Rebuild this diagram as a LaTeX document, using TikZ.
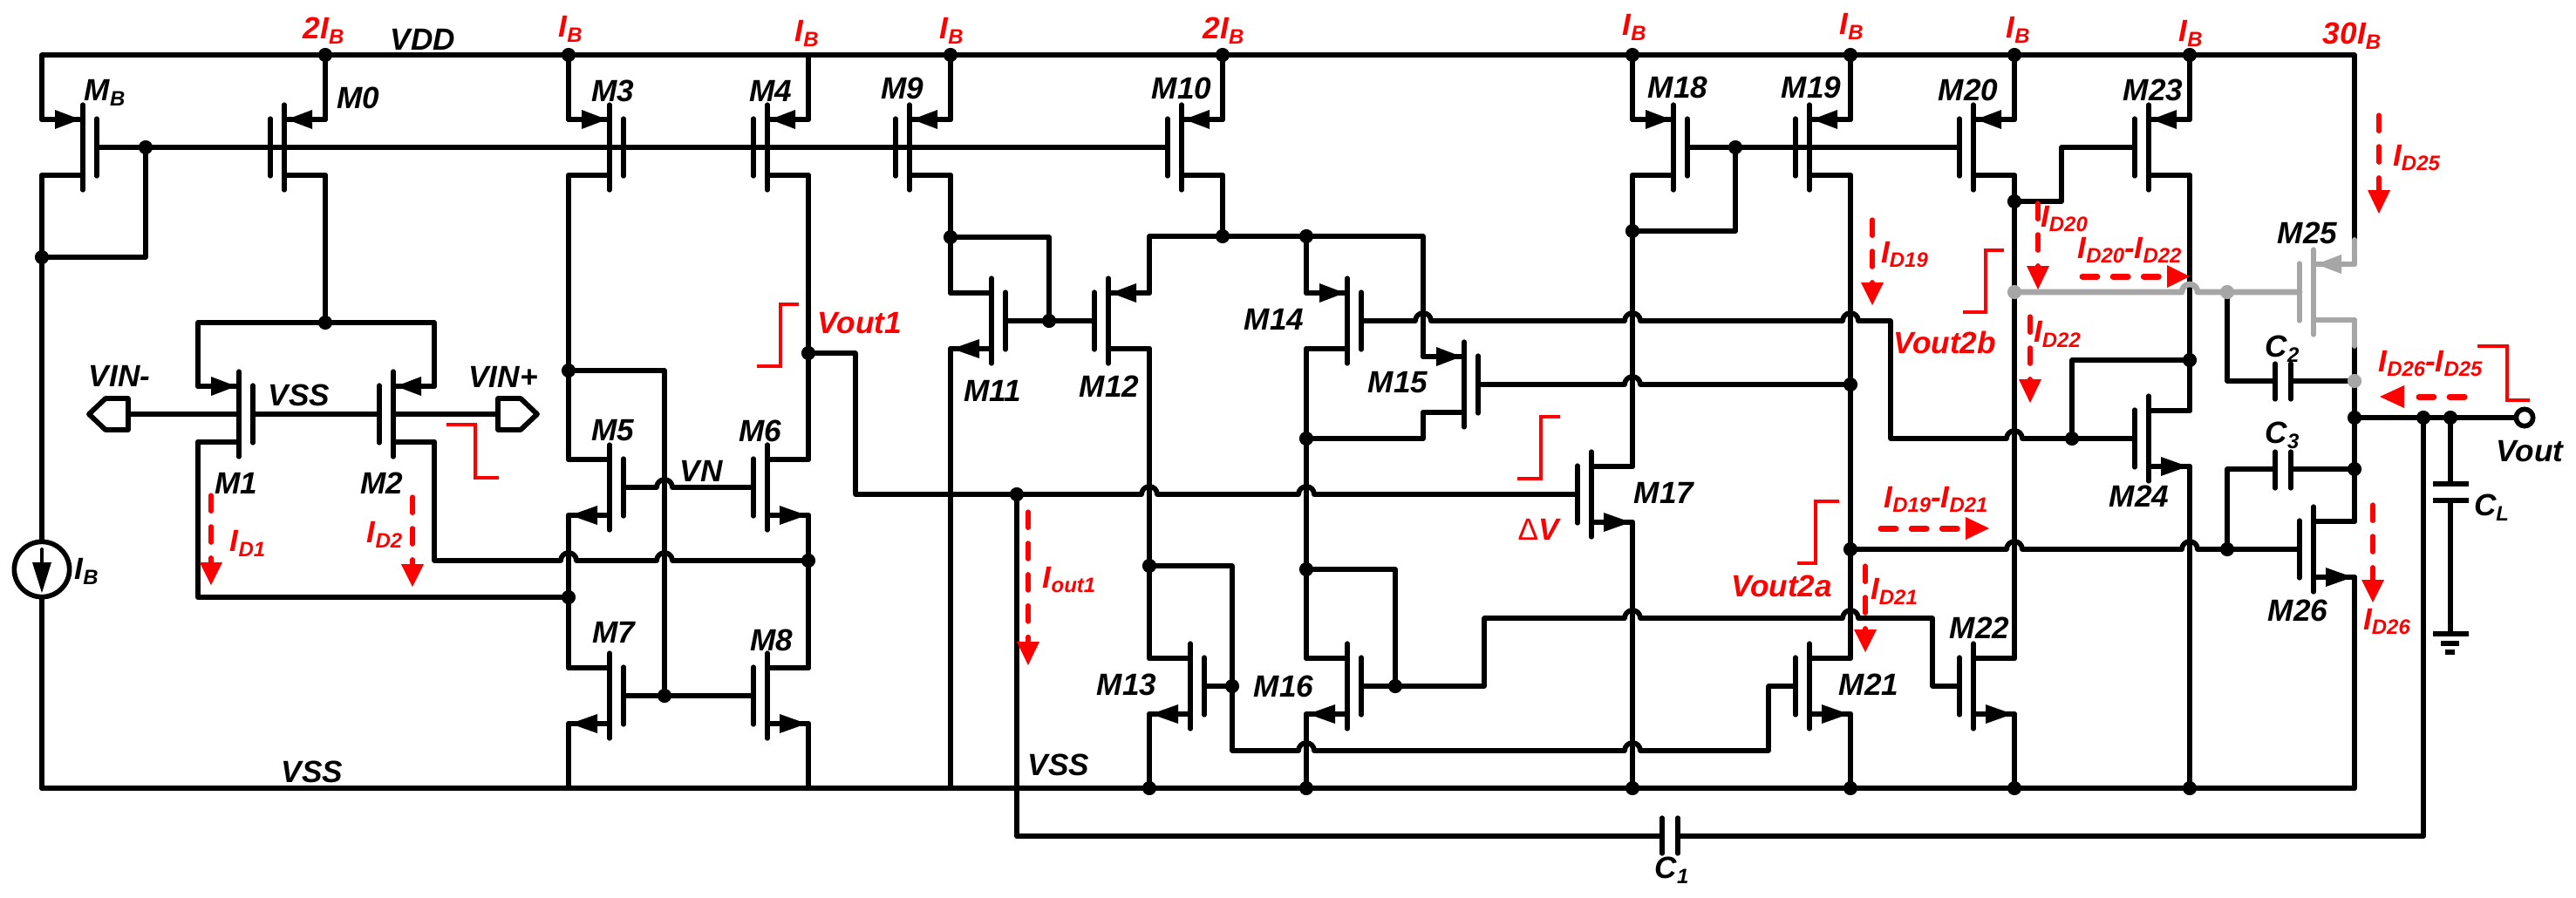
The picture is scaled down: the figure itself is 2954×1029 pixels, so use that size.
\documentclass[tikz,border=0pt]{standalone}
\usepackage{fontspec}
\usepackage{graphicx}
\setmainfont{Liberation Sans}
\usetikzlibrary{calc}
\definecolor{gr}{HTML}{A6A6A6}
\tikzset{
  wire/.style={line width=1.65pt,line cap=round,line join=round},
  bar/.style={line width=1.5pt,line cap=round},
  lbl/.style={inner sep=0pt,font=\fontsize{10}{10}\selectfont\bfseries\itshape},
  rlbl/.style={lbl,text=red},
  brk/.style={red,line width=1.25pt,line cap=butt,line join=miter},
  rdash/.style={red,line width=1.5pt,line cap=round,dash pattern=on 5.2pt off 5pt},
  rdashh/.style={red,line width=2pt,line cap=round,dash pattern=on 4.8pt off 5.2pt},
}
\newcommand\subs[1]{\raisebox{-1.7pt}{\fontsize{6.8}{7}\selectfont #1}}
\newcommand\mosbase[5]{%
  \pgfmathsetmacro\mxw{#3-(#5)*47}%
  \pgfmathsetmacro\mxp{#3+(#5)*16}%
  \coordinate (#2-c) at (#3,#4);
  \coordinate (#2-g) at (\mxp,#4);
  \coordinate (#2-t) at (\mxw,#4-32);
  \coordinate (#2-b) at (\mxw,#4+32);
  \draw[bar,#1] (#3,#4-49) -- (#3,#4+49);
  \draw[bar,#1] (\mxp,#4-33) -- (\mxp,#4+33);
  \draw[wire,#1] (#3,#4-32) -- (#2-t);
  \draw[wire,#1] (#3,#4+32) -- (#2-b);
}
\newcommand\pmos[5][black]{\mosbase{#1}{#2}{#3}{#4}{#5}%
  \fill[#1] (#3-3*#5,#4-32) -- (#3-32*#5,#4-43) -- (#3-32*#5,#4-21) -- cycle;}
\newcommand\nmos[5][black]{\mosbase{#1}{#2}{#3}{#4}{#5}%
  \fill[#1] (#3-45*#5,#4+32) -- (#3-14*#5,#4+21) -- (#3-14*#5,#4+43) -- cycle;}
\newcommand\hp[1]{-- ($(#1)+(-9,0)$) arc[start angle=180,end angle=0,radius=2.56pt] }
\newcommand\lab[4]{\node[lbl] (#1) at (#2,#3) {#4};}
\newcommand\rlab[4]{\node[rlbl] (#1) at (#2,#3) {#4};}
\newcommand\redv[5]{%
  \coordinate (#1-s) at (#2,#3); \coordinate (#1-b) at (#2,#4); \coordinate (#1-t) at (#2,#5);
  \draw[rdash] (#1-s) -- (#1-b);
  \fill[red] (#2-13,#4) -- (#2+13,#4) -- (#1-t) -- cycle;}
\newcommand\redh[5]{%
  \coordinate (#1-s) at (#2,#5); \coordinate (#1-b) at (#3,#5); \coordinate (#1-t) at (#4,#5);
  \draw[rdashh] (#1-s) -- (#1-b);
  \fill[red] (#3,#5-13) -- (#3,#5+13) -- (#1-t) -- cycle;}
\begin{document}
\begin{tikzpicture}[x=0.01cm,y=-0.01cm]
\useasboundingbox (0,0) rectangle (2954,1029);
\fill[white] (0,0) rectangle (2954,1029);
% rails
\coordinate (vddL) at (48,63); \coordinate (vddR) at (2700,63);
\coordinate (vssL) at (48,904); \coordinate (vssR) at (2700,904);
\coordinate (g25a) at (2700,275); \coordinate (g25b) at (2700,397);
% transistors
\pmos{MB}{95}{169}{1}
\pmos{M0}{326}{169}{-1}
\pmos{M3}{699}{169}{1}
\pmos{M4}{880}{169}{-1}
\pmos{M9}{1043}{169}{-1}
\pmos{M10}{1355}{169}{-1}
\pmos{M18}{1919}{169}{1}
\pmos{M19}{2075}{169}{-1}
\pmos{M20}{2263}{169}{-1}
\pmos{M23}{2464}{169}{-1}
\pmos{M1}{274}{475}{1}
\pmos{M2}{451}{475}{-1}
\nmos{M5}{699}{559}{1}
\nmos{M6}{880}{559}{-1}
\nmos{M7}{699}{798}{1}
\nmos{M8}{880}{798}{-1}
\nmos{M11}{1137}{368}{1}
\pmos{M12}{1271}{368}{-1}
\pmos{M14}{1545}{368}{1}
\pmos{M15}{1679}{441}{1}
\nmos{M17}{1825}{567}{-1}
\nmos{M13}{1365}{787}{1}
\nmos{M16}{1545}{787}{1}
\nmos{M21}{2075}{787}{-1}
\nmos{M22}{2263}{787}{-1}
\nmos{M24}{2464}{503}{-1}
\pmos[gr]{M25}{2653}{335}{-1}
\nmos{M26}{2653}{630}{-1}
% junctions
\foreach \n/\x/\y in {v0/373/63,v3/652/63,v9/1090/63,v10/1402/63,v18/1872/63,v19/2122/63,v20/2310/63,v23/2511/63,
  jb/167/169,j48/48/295,jt/373/370,j425/652/425,j685/652/685,j405/927/405,j643/927/643,
  j762/762/798,j272/1090/272,j368/1203/368,j1402/1402/271,j1498/1498/271,j503/1498/503,
  j649/1318/649,j653/1498/653,j787/1413/787,j1600/1600/787,j1166/1166/567,j265/1872/265,j1990/1990/169,
  j367/2122/441,j630/2122/630,j231/2310/231,j413/2511/413,j2376/2376/503,j2554/2554/630,
  j479/2700/479,j538/2700/538,j2779/2779/479,j2810/2810/479,
  s13/1318/904,s16/1498/904,s17/1872/904,s21/2122/904,s22/2310/904,s24/2511/904}
  {\coordinate (\n) at (\x,\y);}
\foreach \n/\x/\y in {jg1/2310/335,jg2/2554/335,jg3/2700/437} {\coordinate (\n) at (\x,\y);}
% hops
\foreach \n/\x/\y in {h1/652/643,h2/762/643,h3/762/559,h4/1318/567,h5/1498/567,h6/1632/368,h7/1872/368,h8/2122/368,
  h9/1872/441,h10/2310/503,gh/2511/335,h11/2310/630,h12/2511/630,h13/1872/709,h14/2122/709,h15/1498/861,h16/1872/861}
  {\coordinate (\n) at (\x,\y);}
% corners
\foreach \n/\x/\y in {c1/981/567,c2/2168/368,c3/2364/169,c4/1413/861,c5/2028/861,c6/1702/709,c7/2216/709,
  cvn/762/425,cC1a/1166/959,cC1b/2779/959,C1a/1906/959,C1b/1924/959,C2a/2609/437,C2b/2627/437,C3a/2609/538,C3b/2627/538,
  pinL/147/475,pinR/571/475,CLa/2810/555,CLb/2810/574,gnd/2810/727}
  {\coordinate (\n) at (\x,\y);}
% VDD, VSS
\draw[wire] (MB-t) |- (vddR) -- (g25a);
\foreach \m in {M0,M3,M4,M9,M10,M18,M19,M20,M23} {\draw[wire] (\m-t) -- (\m-t |- vddL);}
\draw[wire] (vssL) -- (vssR);
% current source
\node[circle,draw,line width=1.6pt,minimum size=18pt,inner sep=0pt] (cs) at (48,653) {};
\draw[wire] (MB-b) -- (cs.north);
\draw[wire] (cs.south) -- (vssL);
\draw[wire,line width=1.1pt] (48,630) -- (48,650);
\fill (37,645) -- (59,645) -- (48,680) -- cycle;
% left part
\draw[wire] (MB-g) -- (M10-g);
\draw[wire] (jb) |- (j48);
\draw[wire] (M0-b) -- (jt);
\draw[wire] (M1-t) -- (M1-t |- jt) -- (M2-t |- jt) -- (M2-t);
\draw[wire] (pinL) -- (M1-c);
\draw[wire] (M1-g) -- (M2-g);
\draw[wire] (M2-c) -- (pinR);
\draw[wire] (147,457) -- (121,457) -- (102,475) -- (121,493) -- (147,493) -- cycle;
\draw[wire] (571,457) -- (597,457) -- (616,475) -- (597,493) -- (571,493) -- cycle;
\draw[wire] (M1-b) |- (j685);
\draw[wire] (M2-b) -- (M2-b |- h1) \hp{h1} \hp{h2} -- (j643);
\draw[wire] (M3-b) -- (M5-t);
\draw[wire] (M5-b) -- (M7-t);
\draw[wire] (M7-b) -- (M7-b |- vssL);
\draw[wire] (j425) -| (j762);
\draw[wire] (M5-g) \hp{h3} -- (M6-g);
\draw[wire] (M7-g) -- (M8-g);
\draw[wire] (M4-b) -- (M6-t);
\draw[wire] (M6-b) -- (M8-t);
\draw[wire] (M8-b) -- (M8-b |- vssL);
% first stage output
\draw[wire] (j405) -| (c1) \hp{h4} \hp{h5} -- (M17-g);
\draw[wire] (j1166) -- (cC1a) -- (C1a);
\draw[wire] (C1b) -- (cC1b) -- (j2779);
\draw[bar] (1906,938) -- (1906,979);
\draw[bar] (1924,938) -- (1924,979);
% second stage
\draw[wire] (M9-b) -- (M11-t);
\draw[wire] (j272) -| (j368);
\draw[wire] (M11-g) -- (M12-g);
\draw[wire] (M11-b) -- (M11-b |- vssL);
\draw[wire] (M10-b) -- (j1402);
\draw[wire] (M12-t) |- (M15-t |- j1402) -- (M15-t);
\draw[wire] (M14-t) -- (j1498);
\draw[wire] (M12-b) -- (M13-t);
\draw[wire] (M14-b) -- (M16-t);
\draw[wire] (M15-b) |- (j503);
\draw[wire] (M14-g) \hp{h6} \hp{h7} \hp{h8} -- (c2) -- (c2 |- M24-g) \hp{h10} -- (M24-g);
\draw[wire] (M15-g) \hp{h9} -- (j367);
\draw[wire] (M18-b) -- (M17-t);
\draw[wire] (M17-b) -- (s17);
\draw[wire] (M18-g) -- (M20-g);
\draw[wire] (j1990) |- (j265);
\draw[wire] (M19-b) -- (M21-t);
\draw[wire] (M21-b) -- (s21);
\draw[wire] (M20-b) -- (M22-t);
\draw[wire] (M22-b) -- (s22);
\draw[wire] (j231) -| (c3) -- (M23-g);
\draw[wire] (M23-b) -- (M24-t);
\draw[wire] (j2376) |- (j413);
\draw[wire] (M24-b) -- (s24);
\draw[wire] (j649) -| (c4) \hp{h15} \hp{h16} -- (c5) |- (M21-g);
\draw[wire] (M13-g) -- (j787);
\draw[wire] (j653) -| (j1600);
\draw[wire] (M16-g) -- (j1600);
\draw[wire] (j1600) -| (c6) \hp{h13} \hp{h14} -- (c7) |- (M22-g);
\draw[wire] (M13-b) -- (s13);
\draw[wire] (M16-b) -- (s16);
% output stage
\draw[wire] (g25b) -- (M26-t);
\draw[wire] (M26-b) -- (vssR);
\draw[wire] (jg2) |- (C2a);
\draw[wire] (C2b) -- (jg3);
\draw[bar] (2609,417) -- (2609,458);
\draw[bar] (2627,417) -- (2627,458);
\draw[wire] (j538) -- (C3b);
\draw[wire] (C3a) -| (j2554);
\draw[bar] (2609,518) -- (2609,560);
\draw[bar] (2627,518) -- (2627,560);
\draw[wire] (j630) \hp{h11} \hp{h12} -- (M26-g);
\node[circle,draw,line width=1.6pt,fill=white,minimum size=5.5pt,inner sep=0pt] (vout) at (2895,479) {};
\draw[wire] (j479) -- (vout);
\draw[wire] (j2810) -- (CLa);
\draw[wire] (CLb) -- (gnd);
\draw[wire,line cap=butt] (2790,555) -- (2831,555);
\draw[wire,line cap=butt] (2790,574) -- (2831,574);
\draw[wire,line cap=butt] (2790,727) -- (2831,727);
\draw[wire,line cap=butt] (2799,738) -- (2820,738);
\draw[wire,line cap=butt] (2804,748) -- (2815,748);
% grey net
\draw[wire,gr] (M25-t) -- (g25a);
\draw[wire,gr] (M25-b) -- (g25b);
\draw[wire,gr,line width=1.9pt] (jg1) \hp{gh} -- (M25-g);
% dots
\foreach \j in {v0,v3,v9,v10,v18,v19,v20,v23,jb,j48,jt,j425,j685,j405,j643,j762,j272,j368,j1402,j1498,j503,
  j649,j653,j787,j1600,j1166,j265,j1990,j367,j630,j231,j413,j2376,j2554,j479,j538,j2779,j2810,s13,s16,s17,s21,s22,s24}
  {\fill (\j) circle[radius=2.3pt];}
\foreach \j in {jg1,jg2,jg3} {\fill[gr] (\j) circle[radius=2.3pt];}
% black labels
\lab{tVDD}{485}{45}{VDD}
\lab{tMB}{120}{106}{M\subs{B}}
\lab{tM0}{411}{112}{M0}
\lab{tM3}{703}{104}{M3}
\lab{tM4}{884}{104}{M4}
\lab{tM9}{1035}{101}{M9}
\lab{tM10}{1355}{101}{M10}
\lab{tM18}{1924}{100}{M18}
\lab{tM19}{2077}{100}{M19}
\lab{tM20}{2257}{103}{M20}
\lab{tM23}{2469}{103}{M23}
\lab{tM1}{271}{554}{M1}
\lab{tM2}{438}{554}{M2}
\lab{tM5}{703}{494}{M5}
\lab{tM6}{872}{494}{M6}
\lab{tM7}{704}{725}{M7}
\lab{tM8}{885}{734}{M8}
\lab{tM11}{1138}{448}{M11}
\lab{tM12}{1272}{443}{M12}
\lab{tM13}{1292}{785}{M13}
\lab{tM14}{1461}{366}{M14}
\lab{tM15}{1603}{439}{M15}
\lab{tM16}{1472}{787}{M16}
\lab{tM17}{1908}{565}{M17}
\lab{tM21}{2143}{785}{M21}
\lab{tM22}{2270}{720}{M22}
\lab{tM24}{2453}{569}{M24}
\lab{tM25}{2646}{267}{M25}
\lab{tM26}{2635}{700}{M26}
\lab{tVINm}{137}{431}{VIN-}
\lab{tVINp}{577}{432}{VIN+}
\lab{tVSSa}{343}{453}{VSS}
\lab{tVSSb}{358}{885}{VSS}
\lab{tVSSc}{1214}{877}{VSS}
\lab{tVN}{804}{540}{VN}
\lab{tIBs}{99}{655}{I\subs{B}}
\lab{tC1}{1917}{998}{C\subs{1}}
\lab{tC2}{2617}{400}{C\subs{2}}
\lab{tC3}{2617}{499}{C\subs{3}}
\lab{tCL}{2857}{582}{C\subs{L}}
\lab{tVout}{2901}{518}{Vout}
% red labels
\rlab{r2IBa}{371}{35}{2I\subs{B}}
\rlab{rIB3}{654}{33}{I\subs{B}}
\rlab{rIB4}{925}{38}{I\subs{B}}
\rlab{rIB9}{1091}{35}{I\subs{B}}
\rlab{r2IBb}{1403}{35}{2I\subs{B}}
\rlab{rIB18}{1874}{31}{I\subs{B}}
\rlab{rIB19}{2123}{30}{I\subs{B}}
\rlab{rIB20}{2314}{34}{I\subs{B}}
\rlab{rIB23}{2512}{38}{I\subs{B}}
\rlab{r30}{2697}{41}{30I\subs{B}}
\rlab{rVout1}{986}{371}{Vout1}
\rlab{rVout2b}{2230}{393}{Vout2b}
\rlab{rVout2a}{2043}{672}{Vout2a}
\rlab{rDV}{1764}{607}{{\mdseries\upshape Δ}V}
\rlab{rID1}{284}{623}{I\subs{D1}}
\rlab{rID2}{441}{613}{I\subs{D2}}
\rlab{rIo}{1226}{665}{I\subs{out1}}
\rlab{rID19}{2184}{292}{I\subs{D19}}
\rlab{rID20}{2367}{251}{I\subs{D20}}
\rlab{rID22}{2359}{383}{I\subs{D22}}
\rlab{rID2022}{2442}{287}{I\subs{D20}-I\subs{D22}}
\rlab{rID25}{2771}{181}{I\subs{D25}}
\rlab{rID2625}{2787}{417}{I\subs{D26}-I\subs{D25}}
\rlab{rID1921}{2220}{573}{I\subs{D19}-I\subs{D21}}
\rlab{rID21}{2172}{678}{I\subs{D21}}
\rlab{rID26}{2737}{713}{I\subs{D26}}
% current arrows
\redv{a1}{242}{568}{645}{671}
\redv{a2}{473}{570}{647}{673}
\redv{ao}{1179}{587}{736}{763}
\redv{a19}{2147}{252}{324}{350}
\redv{a20}{2337}{233}{305}{332}
\redv{a22}{2328}{363}{435}{462}
\redv{a25}{2728}{132}{218}{245}
\redv{a21}{2139}{649}{722}{748}
\redv{a26}{2721}{579}{665}{691}
\redh{b1}{2388}{2485}{2511}{317}
\redh{b2}{2157}{2254}{2281}{606}
\redh{b3}{2826}{2757}{2729}{455}
% level brackets
\draw[brk] (512,487) -- (545,487) -- (545,548) -- (572,548);
\draw[brk] (916,349) -- (895,349) -- (895,420) -- (868,420);
\draw[brk] (1789,478) -- (1767,478) -- (1767,549) -- (1740,549);
\draw[brk] (2298,287) -- (2277,287) -- (2277,358) -- (2251,358);
\draw[brk] (2109,575) -- (2082,575) -- (2082,646) -- (2061,646);
\draw[brk] (2841,397) -- (2875,397) -- (2875,459) -- (2901,459);
\end{tikzpicture}
\end{document}
